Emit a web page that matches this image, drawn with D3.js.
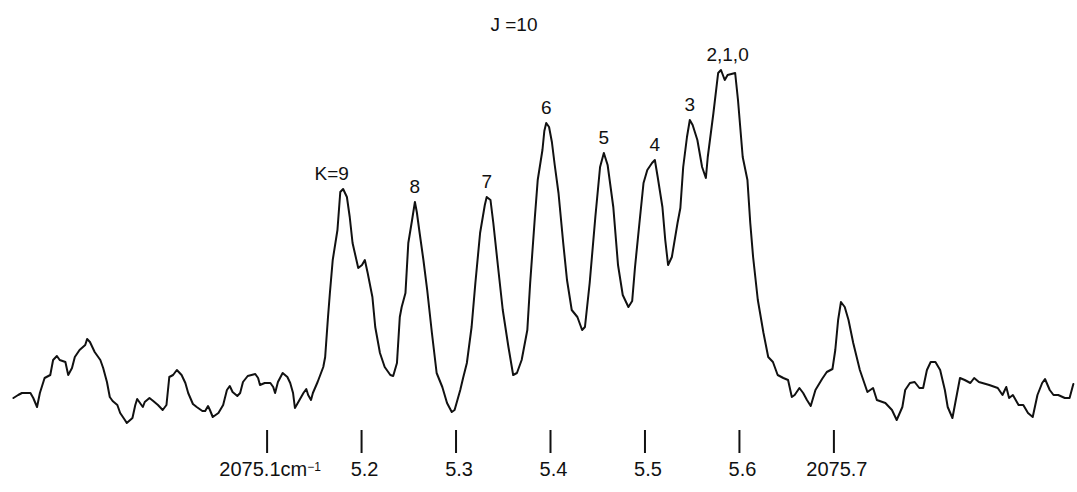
<!DOCTYPE html>
<html>
<head>
<meta charset="utf-8">
<script src="https://cdn.jsdelivr.net/npm/d3@7"></script>
<style>
  html, body { margin: 0; padding: 0; background: #fff; }
  svg { display: block; }
  text { font-family: "Liberation Sans", Arial, Helvetica, sans-serif; fill: #111; }
</style>
</head>
<body>
<svg id="chart" width="1077" height="492"></svg>
<script>
// ---- data ----
const title = "J =10";

// wavenumber (cm^-1) of each sampled point of the recorded trace
const wavenumber = [
  2074.832,2074.837,2074.841,2074.846,2074.850,2074.853,2074.857,2074.860,2074.865,2074.871,
  2074.874,2074.878,2074.881,2074.887,2074.890,2074.894,2074.897,2074.902,2074.908,2074.910,
  2074.913,2074.918,2074.924,2074.927,2074.931,2074.934,2074.937,2074.942,2074.945,2074.950,
  2074.952,2074.958,2074.961,2074.963,2074.966,2074.969,2074.971,2074.976,2074.980,2074.985,
  2074.990,2074.994,2074.997,2075.001,2075.005,2075.010,2075.014,2075.017,2075.022,2075.026,
  2075.032,2075.035,2075.038,2075.040,2075.043,2075.049,2075.054,2075.058,2075.061,2075.064,
  2075.069,2075.072,2075.075,2075.080,2075.088,2075.091,2075.093,2075.098,2075.104,2075.107,
  2075.109,2075.112,2075.117,2075.122,2075.125,2075.128,2075.130,2075.133,2075.139,2075.142,
  2075.144,2075.147,2075.149,2075.154,2075.160,2075.162,2075.165,2075.167,2075.170,2075.175,
  2075.178,2075.181,2075.185,2075.188,2075.191,2075.197,2075.201,2075.204,2075.207,2075.212,
  2075.215,2075.220,2075.225,2075.231,2075.234,2075.238,2075.241,2075.243,2075.247,2075.250,
  2075.254,2075.257,2075.259,2075.262,2075.266,2075.270,2075.275,2075.280,2075.286,2075.291,
  2075.296,2075.299,2075.305,2075.308,2075.312,2075.317,2075.321,2075.326,2075.331,2075.333,
  2075.337,2075.340,2075.345,2075.350,2075.356,2075.361,2075.365,2075.370,2075.376,2075.379,
  2075.384,2075.387,2075.392,2075.394,2075.396,2075.399,2075.402,2075.405,2075.409,2075.414,
  2075.418,2075.423,2075.429,2075.434,2075.437,2075.442,2075.448,2075.453,2075.457,2075.461,
  2075.467,2075.472,2075.477,2075.483,2075.487,2075.490,2075.495,2075.499,2075.503,2075.508,
  2075.511,2075.514,2075.519,2075.522,2075.525,2075.529,2075.535,2075.538,2075.541,2075.545,
  2075.548,2075.551,2075.556,2075.561,2075.565,2075.567,2075.573,2075.578,2075.581,2075.585,
  2075.588,2075.596,2075.599,2075.604,2075.609,2075.612,2075.615,2075.620,2075.626,2075.631,
  2075.636,2075.641,2075.647,2075.652,2075.656,2075.659,2075.664,2075.668,2075.672,2075.676,
  2075.681,2075.688,2075.693,2075.699,2075.702,2075.705,2075.708,2075.712,2075.716,2075.721,
  2075.728,2075.736,2075.742,2075.746,2075.755,2075.762,2075.767,2075.773,2075.776,2075.781,
  2075.786,2075.791,2075.795,2075.799,2075.803,2075.808,2075.813,2075.818,2075.821,2075.826,
  2075.829,2075.834,2075.839,2075.845,2075.849,2075.854,2075.865,2075.874,2075.879,2075.883,
  2075.886,2075.890,2075.896,2075.901,2075.906,2075.911,2075.916,2075.921,2075.924,2075.929,
  2075.933,2075.938,2075.945,2075.950,2075.954
];

// absorption signal (arbitrary units) at each point above
const intensity = [
  10.5,11.25,11.75,11.75,11.75,10.5,8.25,11.75,15.5,16.25,
  20,21,20,19.5,16.25,18,20.75,22.5,23.75,25.25,
  24.5,22,20,18,14.5,10.75,9.75,8.75,6.75,5,
  4.25,5.5,8.75,10.25,9.25,8.25,9.5,10.5,9.75,8.75,
  7.5,8.75,15.75,16.25,17.5,16.25,14.25,11.75,9,8.25,
  7.25,7.25,8.5,7.5,5.75,6.75,8.75,12.5,13.5,12,
  11,11.75,14.5,16,16.5,15.5,13.75,14.25,14.25,13.25,
  11.75,14.5,16.75,15.75,14.25,11.75,8,9.25,11.75,12.75,
  11.25,10,11.75,14.5,18.25,20.75,30.75,36.75,45,52.5,
  62,62.75,60.75,55.75,49.25,43,43.75,45,41.75,35.75,
  28.25,21.75,18.25,16.25,16,19.25,30.75,33.25,36.75,49.25,
  55,59.5,57,51.75,45,37.5,26.75,16.75,13.25,9.25,
  7,7.5,12.5,15.5,19.25,28.25,39.25,51.75,58.75,60.75,
  60,54.25,43.25,32.5,23.25,16.25,16.75,20,27.5,39.25,
  55.75,65,72.5,77.25,79.25,78.25,74.5,68.75,61.75,49.25,
  40,32.5,30.75,27.5,28.25,39.25,55.75,68.25,71.75,68.75,
  58.25,43.75,36.25,33.25,34.75,43.25,55,64.25,67.5,69.25,
  70,65.75,58.25,50,43.75,45.75,54.25,58,68.25,75.75,
  80,78.75,75,68.25,65.5,70.75,81.75,91.75,92.5,90,
  91.25,91.75,85,70.75,65,54.25,45.75,35,26.75,20.75,
  19.5,16.25,15.5,15,10.75,11.25,13,11.75,10,8.5,
  12.5,15.25,17,17.75,22.5,30,34.5,33.25,30,24.25,
  17.5,12,13,10,9.25,7.5,5,8.25,12.5,14.25,
  14.5,13,13,17.5,19.5,19.5,17.5,12.5,8.25,5.5,
  9.25,15.5,15,14.25,15.5,14.5,13.75,13,11.25,13.25,
  10.5,11.25,8.75,8.75,6.75,5.75,11.25,14.25,15.25,12.5,
  11.25,11.25,10.5,10.5,14
];

// K-component labels and the wavenumber of the peak each one marks
const peakLabels = ["K=9", "8", "7", "6", "5", "4", "3", "2,1,0"];
const peakWavenumber = [2075.181, 2075.257, 2075.333, 2075.396, 2075.457, 2075.511, 2075.548, 2075.588];

// calibration marks on the wavenumber axis
const tickValues = [2075.1, 2075.2, 2075.3, 2075.4, 2075.5, 2075.6, 2075.7];
const tickLabels = ["2075.1cm", "5.2", "5.3", "5.4", "5.5", "5.6", "2075.7"];

// ---- drawing ----
const svg = d3.select("#chart");

const x = d3.scaleLinear().domain([2075.1, 2075.7]).range([266.6, 833.4]);
const y = d3.scaleLinear().domain([0, 100]).range([440, 40]);

const points = wavenumber.map((w, i) => [w, intensity[i]]);

svg.append("path")
  .datum(points)
  .attr("fill", "none")
  .attr("stroke", "#111")
  .attr("stroke-width", 2)
  .attr("stroke-linejoin", "round")
  .attr("stroke-linecap", "round")
  .attr("d", d3.line().x(d => x(d[0])).y(d => y(d[1])));

// title
svg.append("text")
  .attr("x", 514)
  .attr("y", 31)
  .attr("text-anchor", "middle")
  .style("font-size", "19px")
  .text(title);

// peak labels: placed just above the local maximum of the trace
const labelG = svg.append("g").style("font-size", "19px");
peakLabels.forEach((lab, i) => {
  const w0 = peakWavenumber[i];
  const near = points.filter(p => Math.abs(p[0] - w0) <= 0.008);
  const top = d3.max(near, p => p[1]);
  const t = labelG.append("text")
    .attr("x", x(w0))
    .attr("y", y(top) - 9)
    .text(lab);
  if (lab.startsWith("K=")) {
    t.attr("text-anchor", "end").attr("dx", "0.3em");
  } else {
    t.attr("text-anchor", "middle");
  }
});

// wavenumber axis: short vertical marks with labels beneath
const axis = d3.axisBottom(x)
  .tickValues(tickValues)
  .tickSize(23)
  .tickPadding(9)
  .tickFormat((d, i) => tickLabels[i]);

const axisG = svg.append("g")
  .attr("transform", "translate(0,430)")
  .call(axis);

axisG.select(".domain").remove();
axisG.selectAll(".tick line").attr("stroke", "#111").attr("stroke-width", 2);
axisG.selectAll(".tick text")
  .style("font-family", "\"Liberation Sans\", Arial, sans-serif")
  .style("font-size", "20px")
  .attr("dx", 3)
  .attr("fill", "#111");

// superscript unit exponent on the first label
axisG.selectAll(".tick text").filter((d, i) => i === 0)
  .append("tspan")
  .attr("dy", "-0.45em")
  .style("font-size", "12px")
  .text("−1");
</script>
</body>
</html>
